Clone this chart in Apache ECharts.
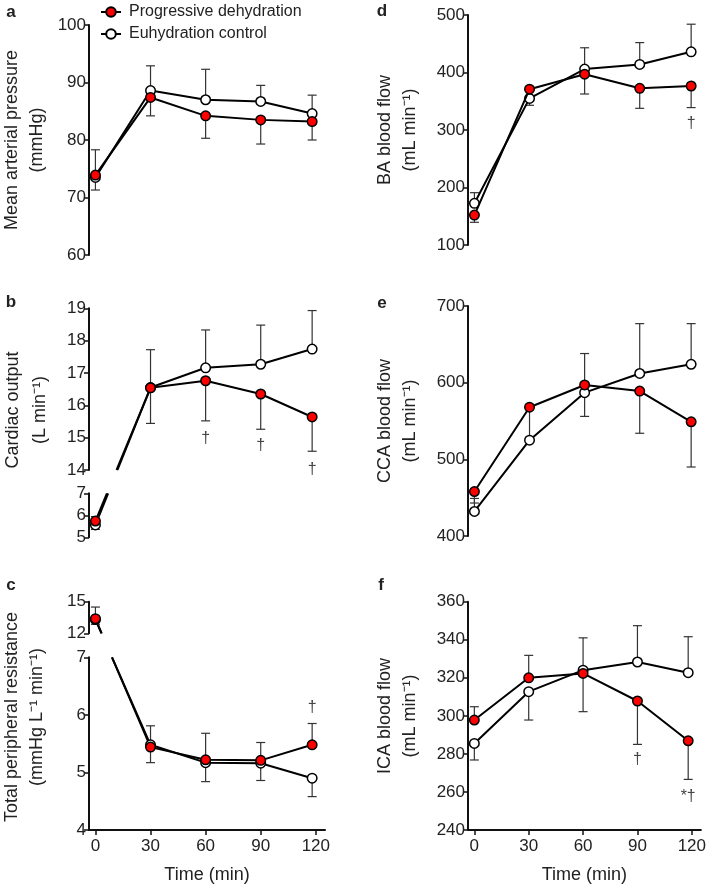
<!DOCTYPE html>
<html>
<head>
<meta charset="utf-8">
<script src="https://cdn.jsdelivr.net/npm/echarts@6/dist/echarts.min.js"></script>
<style>html,body{margin:0;padding:0;background:#fff}#c{width:709px;height:890px}</style>
</head>
<body>
<div id="c"></div>
<script>
// ---------- data ----------
const timePoints = [0, 30, 60, 90, 118];
const timeTicks = [0, 30, 60, 90, 120];
const seriesNames = ['Progressive dehydration', 'Euhydration control'];

// a: Mean arterial pressure (mmHg)
const mapDehyd = [73.9, 87.4, 84.2, 83.5, 83.2];
const mapEuhyd = [73.5, 88.6, 87.0, 86.7, 84.6];
const mapDehydErr = [-2.6, -3.2, -3.9, -4.2, -3.2];
const mapEuhydErr = [4.8, 4.3, 5.3, 2.8, 3.2];

// b: Cardiac output (L/min)
const coDehyd = [5.74, 16.54, 16.76, 16.35, 15.64];
const coEuhyd = [5.56, 16.55, 17.16, 17.27, 17.74];
const coDehydErr = [0.2, -1.1, -1.24, -1.09, -1.06];
const coEuhydErr = [-0.2, 1.17, 1.17, 1.21, 1.19];
const coMarks = [[60, 14.98, '†'], [90, 14.77, '†'], [118, 14.0, '†']];

// c: Total peripheral resistance
const tprDehyd = [13.39, 5.44, 5.22, 5.21, 5.48];
const tprEuhyd = [13.3, 5.48, 5.17, 5.16, 4.90];
const tprDehydErr = [1.1, -0.27, 0.46, 0.31, 0.37];
const tprEuhydErr = [-0.45, 0.33, -0.33, -0.30, -0.32];
const tprMarks = [[118, 6.12, '†']];

// d: BA blood flow
const baDehyd = [152, 371, 397, 372.5, 376.5];
const baEuhyd = [172.5, 355, 406, 414, 436];
const baDehydErr = [-12.5, 0, -34.4, -34.8, -37.5];
const baEuhydErr = [18.5, -12, 37, 38, 48];
const baMarks = [[118, 312, '†']];

// e: CCA blood flow
const ccaDehyd = [458, 568, 597, 589, 549];
const ccaEuhyd = [432, 525, 587, 612, 624];
const ccaDehydErr = [-15, -40, 41, -55, -59];
const ccaEuhydErr = [17, 0, -31, 65, 53];

// f: ICA blood flow
const icaDehyd = [297.8, 320, 322.3, 307.8, 286.9];
const icaEuhyd = [285.5, 312.7, 324, 328.3, 322.7];
const icaDehydErr = [7, 11.8, -20.1, -22.8, -20.3];
const icaEuhydErr = [-8.7, -14.9, 17, 19.1, 18.9];
const icaMarks = [[90, 276.8, '†'], [118, 257.3, '*†']];

// axis ranges [min, max, interval]
const yRanges = [[60,100,10],[14,19,1],[5,7,1],[12,15,3],[4,7,1],[100,500,100],[400,700,100],[240,360,20]];

// ---------- layout ----------
const FONT = "'Liberation Sans', Arial, sans-serif";
const grids = [
  {left:89, top:25, width:236, height:230},
  {left:89, top:308.3, width:236, height:161.7},
  {left:89, top:493.3, width:236, height:44},
  {left:89, top:601.7, width:236, height:31.6},
  {left:89, top:657.3, width:236, height:172.7},
  {left:468, top:15, width:236, height:230},
  {left:468, top:306, width:236, height:230},
  {left:468, top:601.7, width:236, height:228.3}
];
const showX = [false,false,false,false,true,false,false,true];

const xAxes = grids.map((g,i)=>({
  type:'value', gridIndex:i, min:-3.5, max:125, show: showX[i],
  name: showX[i] ? 'Time (min)' : '', nameLocation:'middle', nameGap:36,
  nameTextStyle:{fontSize:18, color:'#222', fontFamily:FONT},
  axisLine:{show:true, onZero:false, lineStyle:{color:'#111', width:2}},
  axisTick:{show:true, length:5, customValues: timeTicks, lineStyle:{color:'#111', width:1.5}},
  axisLabel:{show:true, customValues: timeTicks, fontSize:17, color:'#222', margin:8, fontFamily:FONT},
  splitLine:{show:false}
}));
const yAxes = grids.map((g,i)=>({
  type:'value', gridIndex:i, min:yRanges[i][0], max:yRanges[i][1], interval:yRanges[i][2],
  axisLine:{show:true, onZero:false, lineStyle:{color:'#111', width:2}},
  axisTick:{show:true, length:5, lineStyle:{color:'#111', width:1.5}},
  axisLabel:{fontSize:17, color:'#222', margin:3, fontFamily:FONT},
  splitLine:{show:false}
}));

const series = [];
function pick(arr, idx){ return idx.map(k=>arr[k]); }
function addLine(gi, name, xs, ys, color, z){
  series.push({
    type:'line', name, xAxisIndex:gi, yAxisIndex:gi,
    data: xs.map((x,k)=>[x, ys[k]]),
    symbol:'circle', symbolSize:9.5, showSymbol:true,
    lineStyle:{color:'#000', width:2},
    itemStyle:{color, borderColor:'#000', borderWidth:1.5},
    z, animation:false, silent:true, clip:false
  });
}
function addErr(gi, xs, ys, es){
  const data = [];
  xs.forEach((x,k)=>{ if (es[k] !== 0) data.push([x, ys[k], es[k]]); });
  series.push({
    type:'custom', xAxisIndex:gi, yAxisIndex:gi, data, z:1, silent:true, animation:false,
    encode:{x:0, y:1},
    renderItem(params, api){
      const x = api.value(0), y = api.value(1), e = api.value(2);
      const p = api.coord([x, y]), q = api.coord([x, y + e]);
      const hw = 4.5;
      return {type:'group', children:[
        {type:'line', shape:{x1:p[0], y1:p[1], x2:q[0], y2:q[1]}, style:{stroke:'#333', lineWidth:1.2}},
        {type:'line', shape:{x1:q[0]-hw, y1:q[1], x2:q[0]+hw, y2:q[1]}, style:{stroke:'#333', lineWidth:1.2}}
      ]};
    }
  });
}
function addMarks(gi, marks){
  series.push({
    type:'custom', xAxisIndex:gi, yAxisIndex:gi, data: marks.map(m=>[m[0], m[1]]), z:5, silent:true, animation:false,
    encode:{x:0, y:1},
    renderItem(params, api){
      const p = api.coord([api.value(0), api.value(1)]);
      return {type:'text', x:p[0], y:p[1], style:{text: marks[params.dataIndex][2], fill:'#444',
        font:'16px ' + FONT, align:'center', verticalAlign:'middle', textAlign:'center', textVerticalAlign:'middle'}};
    }
  });
}
function addPanel(gi, idx, dh, eu, dhE, euE){
  const xs = pick(timePoints, idx);
  addErr(gi, xs, pick(eu, idx), pick(euE, idx));
  addErr(gi, xs, pick(dh, idx), pick(dhE, idx));
  addLine(gi, seriesNames[1], xs, pick(eu, idx), '#fff', 3);
  addLine(gi, seriesNames[0], xs, pick(dh, idx), '#f00', 4);
}
const all = [0,1,2,3,4], first = [0], rest = [1,2,3,4];
addPanel(0, all, mapDehyd, mapEuhyd, mapDehydErr, mapEuhydErr);
addPanel(1, rest, coDehyd, coEuhyd, coDehydErr, coEuhydErr);
addPanel(2, first, coDehyd, coEuhyd, coDehydErr, coEuhydErr);
addMarks(1, coMarks);
addPanel(3, first, tprDehyd, tprEuhyd, tprDehydErr, tprEuhydErr);
addPanel(4, rest, tprDehyd, tprEuhyd, tprDehydErr, tprEuhydErr);
addMarks(4, tprMarks);
addPanel(5, all, baDehyd, baEuhyd, baDehydErr, baEuhydErr);
addMarks(5, baMarks);
addPanel(6, all, ccaDehyd, ccaEuhyd, ccaDehydErr, ccaEuhydErr);
addPanel(7, all, icaDehyd, icaEuhyd, icaDehydErr, icaEuhydErr);
addMarks(7, icaMarks);

function txt(id, text, x, y, opts){
  return Object.assign({type:'text', id, x, y, z:10, silent:true,
    style:{text, fill:'#222', font:(opts && opts.font) || ('18px ' + FONT), align:'center', verticalAlign:'middle',
      textAlign:'center', textVerticalAlign:'middle'}}, opts && opts.rot ? {rotation: Math.PI/2} : {});
}
const textEls = [
  txt('la','a',11,12,{font:'bold 17px ' + FONT}),
  txt('lb','b',11,302,{font:'bold 17px ' + FONT}),
  txt('lc','c',11,585,{font:'bold 17px ' + FONT}),
  txt('ld','d',382,11,{font:'bold 17px ' + FONT}),
  txt('le','e',382,303,{font:'bold 17px ' + FONT}),
  txt('lf','f',381,585,{font:'bold 17px ' + FONT}),
  txt('ya1','Mean arterial pressure',12,140,{rot:true}),
  txt('ya2','(mmHg)',37,140,{rot:true}),
  txt('yb1','Cardiac output',13,410,{rot:true}),
  txt('yb2','(L min⁻¹)',40,410,{rot:true}),
  txt('yc1','Total peripheral resistance',12,717,{rot:true}),
  txt('yc2','(mmHg L⁻¹ min⁻¹)',37,717,{rot:true}),
  txt('yd1','BA blood flow',385,130,{rot:true}),
  txt('yd2','(mL min⁻¹)',410,130,{rot:true}),
  txt('ye1','CCA blood flow',385,421,{rot:true}),
  txt('ye2','(mL min⁻¹)',410,421,{rot:true}),
  txt('yf1','ICA blood flow',385,716,{rot:true}),
  txt('yf2','(mL min⁻¹)',410,716,{rot:true})
];

const option = {
  animation:false,
  backgroundColor:'#fff',
  textStyle:{fontFamily:FONT},
  legend:{
    orient:'vertical', left:95, top:-1, itemWidth:20, itemHeight:12, itemGap:6,
    data: seriesNames, selectedMode:false,
    textStyle:{fontSize:16, color:'#222', fontFamily:FONT, padding:[0,0,0,3]}
  },
  grid: grids,
  xAxis: xAxes,
  yAxis: yAxes,
  series,
  graphic:{elements: textEls}
};

const chart = echarts.init(document.getElementById('c'), null, {renderer:'canvas'});
chart.setOption(option);

// broken-axis connectors between the two segments (pixel positions via the chart's own scales)
function connector(idPrefix, gA, pA, limA, gB, pB, limB){
  const P = chart.convertToPixel({gridIndex:gA}, pA);
  const Q = chart.convertToPixel({gridIndex:gB}, pB);
  const yA = chart.convertToPixel({gridIndex:gA}, [0, limA])[1];
  const yB = chart.convertToPixel({gridIndex:gB}, [0, limB])[1];
  const xAt = y => P[0] + (Q[0]-P[0]) * (y - P[1]) / (Q[1]-P[1]);
  const st = {stroke:'#000', lineWidth:2};
  return [
    {type:'line', id:idPrefix+'a', z:1, silent:true, shape:{x1:P[0], y1:P[1], x2:xAt(yA), y2:yA}, style:st},
    {type:'line', id:idPrefix+'b', z:1, silent:true, shape:{x1:xAt(yB), y1:yB, x2:Q[0], y2:Q[1]}, style:st}
  ];
}
const conn = [].concat(
  connector('cbE', 2, [timePoints[0], coEuhyd[0]], 7, 1, [timePoints[1], coEuhyd[1]], 14),
  connector('cbD', 2, [timePoints[0], coDehyd[0]], 7, 1, [timePoints[1], coDehyd[1]], 14),
  connector('ccE', 3, [timePoints[0], tprEuhyd[0]], 12, 4, [timePoints[1], tprEuhyd[1]], 7),
  connector('ccD', 3, [timePoints[0], tprDehyd[0]], 12, 4, [timePoints[1], tprDehyd[1]], 7)
);
chart.setOption({graphic:{elements: textEls.concat(conn)}});
</script>
</body>
</html>
